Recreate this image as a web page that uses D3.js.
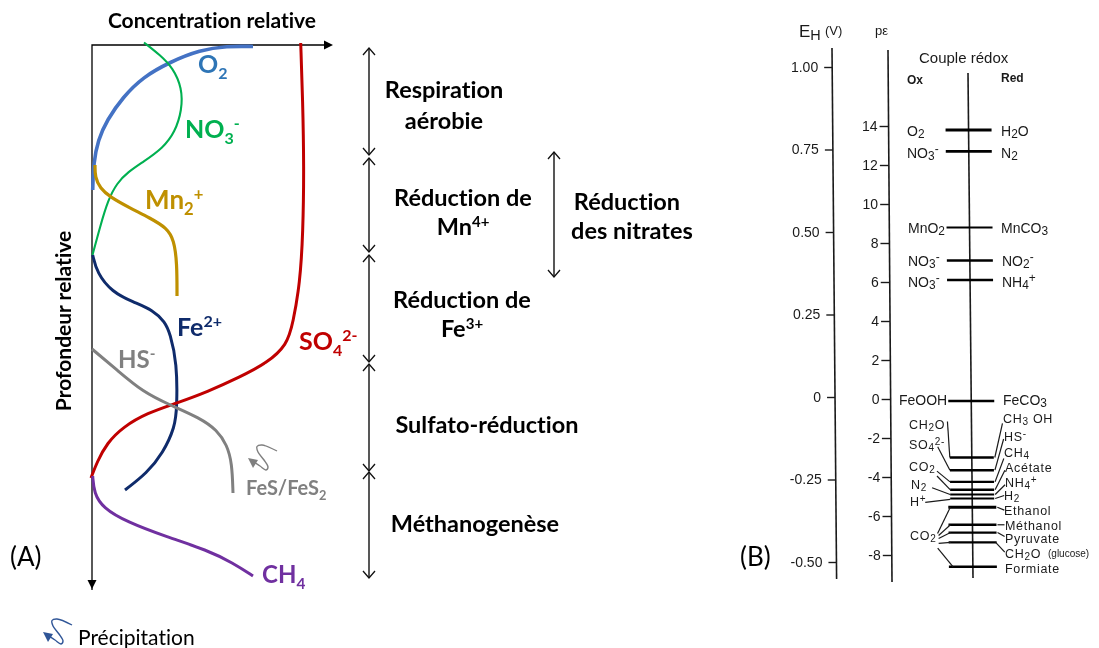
<!DOCTYPE html>
<html><head><meta charset="utf-8">
<script src="https://cdn.jsdelivr.net/npm/d3@7/dist/d3.min.js"></script>
<style>html,body{margin:0;padding:0;background:#fff}svg{display:block}text{font-variant-ligatures:none}</style>
</head><body><svg id="c" width="1099" height="648"></svg>
<script>
// ---- Panel A profiles: [relative concentration, relative depth]
const o2=[[161,1.5],[135,1],[108,5],[78,17],[51,32],[31,52],[15,75],[6,95],[1.5,118],[.7,145]];
const no3=[[52,-2.5],[68,10],[81,23],[90,43],[90,65],[83,87],[71,103],[51,117],[36,127],[25,138],[16,155],[8,182],[.5,210]];
const mn=[[3,120],[3,132],[8,143],[18,152],[38,163],[58,173],[75,183],[82,195],[85,218],[85,251]];
const fe=[[.7,210],[5,228],[20,247],[41,257],[61,265],[73,277],[78,288],[85,318],[85,362],[83,382],[71,408],[55,428],[33,445]];
const so4=[[208.7,-2],[210.7,55],[212,122],[211,188],[208,238],[201,278],[195,300],[175,318],[148,332],[115,347],[85,358],[55,368],[31,382],[15,398],[5,417],[-1,433]];
const hs=[[0,304],[25,325],[51,347],[78,360],[108,373],[125,385],[135,400],[140,418],[141,448]];
const ch4=[[.7,431],[2,448],[11,463],[35,477],[75,492],[115,505],[141,518],[161,531]];
const profiles=[
 {v:o2,c:"#4472c4",w:3.6},{v:no3,c:"#00b050",w:2.1},{v:mn,c:"#bf9000",w:3.2},
 {v:fe,c:"#0f2b6b",w:3},{v:so4,c:"#c00000",w:3},{v:hs,c:"#808080",w:3},{v:ch4,c:"#7030a0",w:3}];
const profileLabels=[
 ["O_{2}",106,28,"#2e75b6",25],["NO_{3}^{-}",93,93,"#00b050",25],["Mn_{2}^{+}",53,164,"#bf9000",26],
 ["Fe^{2+}",85,291,"#0f2b6b",25],["SO_{4}^{2-}",207,305,"#c00000",25],["HS^{-}",26,323,"#808080",24],
 ["FeS/FeS_{2}",154,450,"#808080",20],["CH_{4}",170,538,"#7030a0",24]];
// ---- Panel A redox zones: [top depth, bottom depth]
const zones=[[3,110],[113,207],[210,317],[319,426],[427,533]];
const nitrateZone=[107,232];
const zoneLabels=[
 ["Respiration",352,53],["aérobie",352,84],["Réduction de",371,161],["Mn^{4+}",371,190],
 ["Réduction de",370,263],["Fe^{3+}",370,292],["Sulfato-réduction",395,388],["Méthanogenèse",383,487],
 ["Réduction",535,165],["des nitrates",540,194]];
// ---- Panel B scales
const ehTicks=[1,.75,.5,.25,0,-.25,-.5];
const peTicks=[14,12,10,8,6,4,2,0,-2,-4,-6,-8];
// bar levels in pe: [pe, half width, stroke]
const couples=[[13.8,23,3],[12.7,23,2.6],[8.8,23,2],[7.1,23,2.6],[6.1,23,2.6],[-.1,23,2.6],
 [-3,22,2.4],[-3.65,22,2.6],[-4.25,22,2.4],[-4.65,22,2.6],[-4.9,22,2],[-5.1,22,2],[-5.55,24,2.8],
 [-6.45,24,2.4],[-6.85,24,2.4],[-7.35,24,2.4],[-8.6,24,2.6]];
// leaders: [horizontal offset of the label end, pe at label end, horizontal offset of bar end, pe at bar end]
const leaders=[[-24,-1.15,-22,-3],[-34,-2.45,-22,-3.65],[-35,-3.7,-22,-4.25],[-35,-3.95,-22,-4.65],
 [-40,-4.55,-22,-4.9],[-47,-5.3,-22,-5.15],[-35,-6.9,-22,-5.55],[-34,-7,-22,-6.45],[-34,-7.15,-22,-6.85],
 [-34,-7.4,-22,-7.35],[-35,-7.65,-20,-8.6],
 [31,-1.25,23,-3],[32,-2.05,23,-3.65],[32,-3.05,23,-4.25],[33,-3.65,23,-4.65],[33,-4.4,23,-4.9],[32,-4.95,23,-5.1],
 [32,-5.7,25,-5.55],[32,-6.45,25,-6.45],[32,-7.05,25,-6.85],[32,-7.85,23,-7.35]];
const oxLabels=[["O_{2}",907,136],["NO_{3}^{-}",907,158],["MnO_{2}",908,233],["NO_{3}^{-}",908,266],["NO_{3}^{-}",908,287],["FeOOH",899,405]];
const oxCluster=[["CH_{2}O",909,429],["SO_{4}^{2-}",909,449],["CO_{2}",909,471],["N_{2}",911,489],["H^{+}",910,506],["CO_{2}",910,540]];
const redLabels=[["H_{2}O",1001,136],["N_{2}",1001,158],["MnCO_{3}",1001,233],["NO_{2}^{-}",1002,266],["NH_{4}^{+}",1002,287],["FeCO_{3}",1003,405]];
const redCluster=[["CH_{3} OH",1003,423],["HS^{-}",1004,441],["CH_{4}",1004,457],["Acétate",1005,472],["NH_{4}^{+}",1005,487],
 ["H_{2}",1004,500],["Ethanol",1004,515],["Méthanol",1005,530],["Pyruvate",1005,543],["CH_{2}O",1005,558],["Formiate",1005,573]];
const wiggle=[[29,-7],[14,-13],[9,-11.5],[10,-6],[16,2],[20,9],[18,12],[12,8],[6,4]];
const wiggleHead=[[0,0],[10,2],[5,10]];

const svg=d3.select("#c");
const SANS="Lato,'Open Sans',sans-serif", HEL="'Liberation Sans',Arial,sans-serif";
const left=svg.append("g").attr("id","panelA").style("filter","blur(.3px)");
const x=d3.scaleLinear().domain([0,241]).range([92,333]);
const y=d3.scaleLinear().domain([0,545]).range([45,590]);

function rich(sel,str,size,o){
  const ratio=o.ratio||.64, drop=o.drop||.24;
  const re=/([_^])\{([^}]*)\}|([^_^]+)/g;let m;let shift=0;
  while((m=re.exec(str))){
    const t=sel.append("tspan");
    if(m[3]){t.text(m[3]).attr("dy",-shift);shift=0;}
    else{const s=m[1]==="_"?drop*size:-.36*size;t.text(m[2]).attr("font-size",size*ratio).attr("dy",s-shift);shift=s;}
  }
}
function label(g,str,px,py,o){
  const t=g.append("text").attr("x",px).attr("y",py).attr("font-family",o.font).attr("font-size",o.size)
    .attr("font-weight",o.weight||400).attr("fill",o.fill||"#000").attr("text-anchor",o.anchor||"start");
  if(o.spacing)t.attr("letter-spacing",o.spacing);
  rich(t,str,o.size,o);return t;
}
// axes
left.append("path").attr("d",d3.line()([[x(0),y(545)],[x(0),y(0)],[x(233),y(0)]])).attr("fill","none").attr("stroke","#000").attr("stroke-width",1.3);
left.append("path").attr("d",d3.line()([[x(232),y(-4.5)],[x(241),y(0)],[x(232),y(4.5)]])+"Z").attr("fill","#000");
left.append("path").attr("d",d3.line()([[x(-4.5),y(535)],[x(0),y(544)],[x(4.5),y(535)]])+"Z").attr("fill","#000");
label(left,"Concentration relative",212,28,{font:SANS,size:21,weight:700,anchor:"middle"});
label(left,"Profondeur relative",0,0,{font:SANS,size:21,weight:700,anchor:"middle"}).attr("transform","translate(71,321) rotate(-90)");
// profiles
const ln=d3.line().x(d=>x(d[0])).y(d=>y(d[1])).curve(d3.curveBasis);
left.selectAll(".profile").data(profiles).join("path").attr("class","profile")
  .attr("d",d=>ln(d.v)).attr("fill","none").attr("stroke",d=>d.c).attr("stroke-width",d=>d.w);
profileLabels.forEach(l=>label(left,l[0],x(l[1]),y(l[2]),{font:SANS,size:l[4],weight:700,fill:l[3]}));
// zones
function dbl(g,xp,a,b){
  g.append("line").attr("x1",xp).attr("x2",xp).attr("y1",y(a)).attr("y2",y(b)).attr("stroke","#111").attr("stroke-width",1.4);
  [[a,7],[b,-7]].forEach(([d,s])=>g.append("path").attr("fill","none").attr("stroke","#111").attr("stroke-width",1.3)
    .attr("d",d3.line()([[xp-6,y(d)+s],[xp,y(d)],[xp+6,y(d)+s]])));
}
zones.forEach(z=>dbl(left,x(277),z[0],z[1]));
dbl(left,x(462),nitrateZone[0],nitrateZone[1]);
zoneLabels.forEach(l=>label(left,l[0],x(l[1]),y(l[2]),{font:SANS,size:23.5,weight:700,anchor:"middle"}));
label(left,"(A)",10,566,{font:SANS,size:26});
label(left,"(B)",740,566,{font:SANS,size:26});
label(left,"Précipitation",78,645,{font:SANS,size:21});
// wiggle arrows
function wig(g,tx,ty,col){
  const s=d3.line().x(d=>tx+d[0]).y(d=>ty+d[1]).curve(d3.curveCatmullRom.alpha(.5));
  g.append("path").attr("d",s(wiggle)).attr("fill","none").attr("stroke",col).attr("stroke-width",1.4);
  g.append("path").attr("d",d3.line().x(d=>tx+d[0]).y(d=>ty+d[1])(wiggleHead)+"Z").attr("fill",col);
}
wig(left,248,458,"#7f7f7f");wig(left,43,632,"#2f5597");

// Panel B
const right=svg.append("g").attr("id","panelB").style("filter","blur(.35px)");
const eh=d3.scaleLinear().domain([1,-.5]).range([67,562]);
const pe=d3.scaleLinear().domain([14,-8]).range([126,555]);
const INK="#1a1a1a";
const fmt=s=>s.replace("\u2212","-");
function tiltAxis(axis,x0,y0,x1,y1){
  const xAt=py=>x0+(py-y0)*(x1-x0)/(y1-y0);
  const g=right.append("g").call(axis);
  g.select(".domain").remove();
  g.selectAll(".tick").each(function(){
    const py=+d3.select(this).attr("transform").match(/,\s*([-\d.]+)/)[1];
    d3.select(this).attr("transform",`translate(${xAt(py)},${py})`);
  });
  g.selectAll("text").attr("font-family",HEL).attr("font-size",14).attr("fill",INK);
  g.selectAll("line").attr("stroke",INK).attr("stroke-width",1.4);
  right.append("line").attr("x1",x0).attr("x2",x1).attr("y1",y0).attr("y2",y1).attr("stroke",INK).attr("stroke-width",1.6);
}
tiltAxis(d3.axisLeft(eh).tickValues(ehTicks).tickFormat(d=>d===0?"0":fmt(d3.format(".2f")(d))).tickSize(8).tickPadding(6),832,48,836.6,579);
tiltAxis(d3.axisLeft(pe).tickValues(peTicks).tickFormat(d=>fmt(d3.format("d")(d))).tickSize(9).tickPadding(2),888,50,892,582);
const cx=py=>968+(py-73)*5/505;
right.append("line").attr("x1",cx(73)).attr("x2",cx(578)).attr("y1",73).attr("y2",578).attr("stroke",INK).attr("stroke-width",1.6);
couples.forEach(c=>{const py=pe(c[0]);
  right.append("line").attr("x1",cx(py)-c[1]).attr("x2",cx(py)+c[1]).attr("y1",py).attr("y2",py).attr("stroke","#000").attr("stroke-width",c[2]);});
leaders.forEach(l=>{
  right.append("path").attr("fill","none").attr("stroke",INK).attr("stroke-width",1.2)
   .attr("d",d3.line()([[cx(pe(l[1]))+l[0],pe(l[1])],[cx(pe(l[3]))+l[2],pe(l[3])]]));});
const rOpt={font:HEL,size:14,fill:INK,ratio:.85,drop:.16};
const cOpt={font:HEL,size:12.5,fill:INK,ratio:.8,drop:.12,spacing:.7};
oxLabels.concat(redLabels).forEach(l=>label(right,l[0],l[1],l[2],rOpt));
oxCluster.concat(redCluster).forEach(l=>label(right,l[0],l[1],l[2],cOpt));
label(right,"(glucose)",1048,557,{font:HEL,size:10,fill:INK});
label(right,"E_{H}",799,37,{font:HEL,size:17,fill:INK,ratio:.85,drop:.2});
label(right,"(V)",825,35,{font:HEL,size:13,fill:INK});
label(right,"pε",875,35,{font:HEL,size:13,fill:INK});
label(right,"Couple rédox",919,63,{font:HEL,size:15,fill:INK});
label(right,"Ox",907,84,{font:HEL,size:12,weight:700,fill:INK});
label(right,"Red",1001,82,{font:HEL,size:12,weight:700,fill:INK});
</script></body></html>
